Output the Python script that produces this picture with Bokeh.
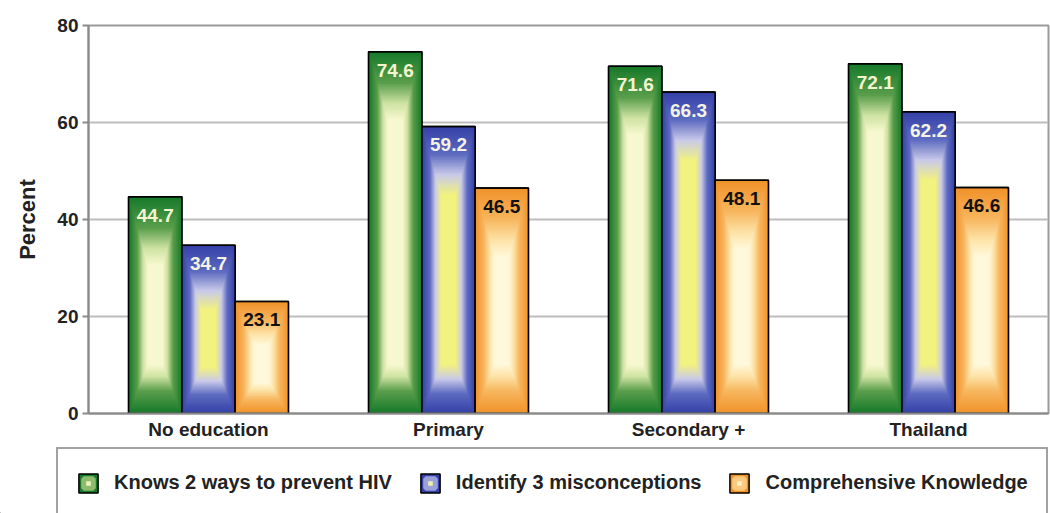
from bokeh.plotting import figure
from bokeh.models import (ColumnDataSource, FactorRange, FixedTicker, Legend, LegendItem, Range1d)
from bokeh.transform import dodge
from bokeh.core.properties import value
from bokeh.embed import file_html
from bokeh.resources import INLINE

# ---------------- data ----------------
categories = ["No education", "Primary", "Secondary +", "Thailand"]
series_names = ["Knows 2 ways to prevent HIV", "Identify 3 misconceptions", "Comprehensive Knowledge"]
knows_2_ways = [44.7, 74.6, 71.6, 72.1]
identify_3_misconceptions = [34.7, 59.2, 66.3, 62.2]
comprehensive_knowledge = [23.1, 46.5, 48.1, 46.6]
y_ticks = [0, 20, 40, 60, 80]

series_values = [knows_2_ways, identify_3_misconceptions, comprehensive_knowledge]

# ---------------- styles ----------------
FONT = value("Liberation Sans")
BAR_W = 0.222
OFFSETS = [-BAR_W, 0.0, BAR_W]
GRAD_STOPS = [
    [(0.0, "#177a2a"), (0.45, "#5a9e4c"), (0.75, "#cfe3a2"), (1.0, "#f8f8d0")],
    [(0.0, "#3541a7"), (0.40, "#5d6bc0"), (0.70, "#c9c9ea"), (1.0, "#f2f27e")],
    [(0.0, "#f0922a"), (0.45, "#f7b65e"), (0.75, "#fde2a6"), (1.0, "#fff8da")],
]
EDGE = [s[0][1] for s in GRAD_STOPS]
SWATCH_MID = ["#8fbc6c", "#9aa0d8", "#fbca7e"]
SWATCH_LIGHT = ["#eef2c0", "#eeeeb0", "#fff0c8"]
LABEL_COLORS = ["#f4f4d0", "#f4f4e4", "#111111"]
N_LEVELS = 40


def hex2rgb(h):
    h = h.lstrip("#")
    return tuple(int(h[i:i + 2], 16) for i in (0, 2, 4))


def interp(stops, t):
    for (t0, c0), (t1, c1) in zip(stops[:-1], stops[1:]):
        if t <= t1:
            f = 0 if t1 == t0 else (t - t0) / (t1 - t0)
            a, b = hex2rgb(c0), hex2rgb(c1)
            return "#%02x%02x%02x" % tuple(int(round(a[i] + (b[i] - a[i]) * f)) for i in range(3))
    return stops[-1][1]


p = figure(
    x_range=FactorRange(*categories, range_padding=0),
    y_range=(0, 80),
    width=1050, height=443,
    output_backend="svg", toolbar_location=None,
    min_border_left=88, min_border_right=2, min_border_top=25, min_border_bottom=30,
    background_fill_color="white", border_fill_color="white",
)

# legend strip below the chart (no axes, frame fills the strip)
lf = figure(
    x_range=Range1d(0, 1), y_range=Range1d(0, 1),
    x_axis_type=None, y_axis_type=None,
    width=1050, height=70, output_backend="svg", toolbar_location=None,
    min_border_left=0, min_border_right=0, min_border_top=0, min_border_bottom=0,
    background_fill_color="white", border_fill_color="white",
)
lf.grid.visible = False
lf.outline_line_color = None

legend_items = []
for s, (name, vals) in enumerate(zip(series_names, series_values)):
    xdodge = dodge("cat", OFFSETS[s], range=p.x_range)
    base = ColumnDataSource(dict(cat=categories, val=vals,
                                 lab=["%.1f" % v for v in vals]))
    p.vbar(x=xdodge, top="val", bottom=0, width=BAR_W, source=base,
           fill_color=EDGE[s], line_color="black", line_width=1.5)

    cats, ws, tops, bots, cols = [], [], [], [], []
    for k in range(1, N_LEVELS + 1):
        t = k / N_LEVELS
        for c, v in zip(categories, vals):
            cats.append(c)
            ws.append(BAR_W * (1 - 0.72 * t))
            tops.append(v - t * min(14.0, 0.38 * v))
            bots.append(t * min(10.0, 0.27 * v))
            cols.append(interp(GRAD_STOPS[s], t))
    grad = ColumnDataSource(dict(cat=cats, w=ws, top=tops, bottom=bots, color=cols))
    p.vbar(x=xdodge, top="top", bottom="bottom", width="w", source=grad,
           fill_color="color", line_color=None)
    p.vbar(x=xdodge, top="val", bottom=0, width=BAR_W, source=base,
           fill_color=None, line_color="black", line_width=1.5)

    p.text(x=xdodge, y="val", text="lab", source=base,
           text_align="center", text_baseline="top", y_offset=12,
           text_font=FONT, text_font_style="bold", text_font_size="19px",
           text_color=LABEL_COLORS[s])

    # legend swatches (glyphs kept outside the visible range)
    sw_outer = lf.vbar(x=[-10], top=[-10], bottom=[-11], width=0.1,
                       fill_color=EDGE[s], line_color="black", line_width=1.5)
    sw_inner = lf.scatter(x=[-10], y=[-10], marker="square", size=10,
                          fill_color=SWATCH_LIGHT[s], line_color=SWATCH_MID[s], line_width=5)
    legend_items.append(LegendItem(label=name, renderers=[sw_outer, sw_inner]))

# ---------------- axes & grid ----------------
p.yaxis.ticker = FixedTicker(ticks=y_ticks)
p.yaxis.axis_label = "Percent"
p.yaxis.axis_label_text_font = "Liberation Sans"
p.yaxis.axis_label_text_font_style = "bold"
p.yaxis.axis_label_text_font_size = "22px"
p.yaxis.axis_label_text_color = "#222222"
p.yaxis.axis_label_standoff = 14
p.yaxis.major_tick_out = 6
p.yaxis.major_tick_in = 0
p.yaxis.minor_tick_line_color = None
p.yaxis.major_label_standoff = 4

for ax in (p.xaxis, p.yaxis):
    ax.axis_line_color = "#8a8a8a"
    ax.axis_line_width = 2
    ax.major_tick_line_color = "#8a8a8a"
    ax.major_tick_line_width = 2
    ax.major_label_text_font = "Liberation Sans"
    ax.major_label_text_font_style = "bold"
    ax.major_label_text_font_size = "19px"
    ax.major_label_text_color = "#222222"

p.xaxis.major_tick_line_color = None
p.xaxis.major_tick_out = 0
p.xaxis.major_label_standoff = 5

p.xgrid.grid_line_color = None
p.ygrid.grid_line_color = "#bdbdbd"
p.ygrid.grid_line_width = 2
p.outline_line_color = "#9a9a9a"
p.outline_line_width = 2

legend = Legend(
    items=legend_items, orientation="horizontal", location=(56, -5), margin=0,
    glyph_width=24, glyph_height=24, label_height=31, label_standoff=14, spacing=26, padding=18,
    label_text_font="Liberation Sans", label_text_font_style="bold",
    label_text_font_size="20px", label_text_color="#222222",
    border_line_color="#444444", border_line_width=2.5,
    background_fill_color="white", background_fill_alpha=1.0,
)
lf.add_layout(legend, "center")

open("out.html", "w").write(file_html([p, lf], INLINE))
